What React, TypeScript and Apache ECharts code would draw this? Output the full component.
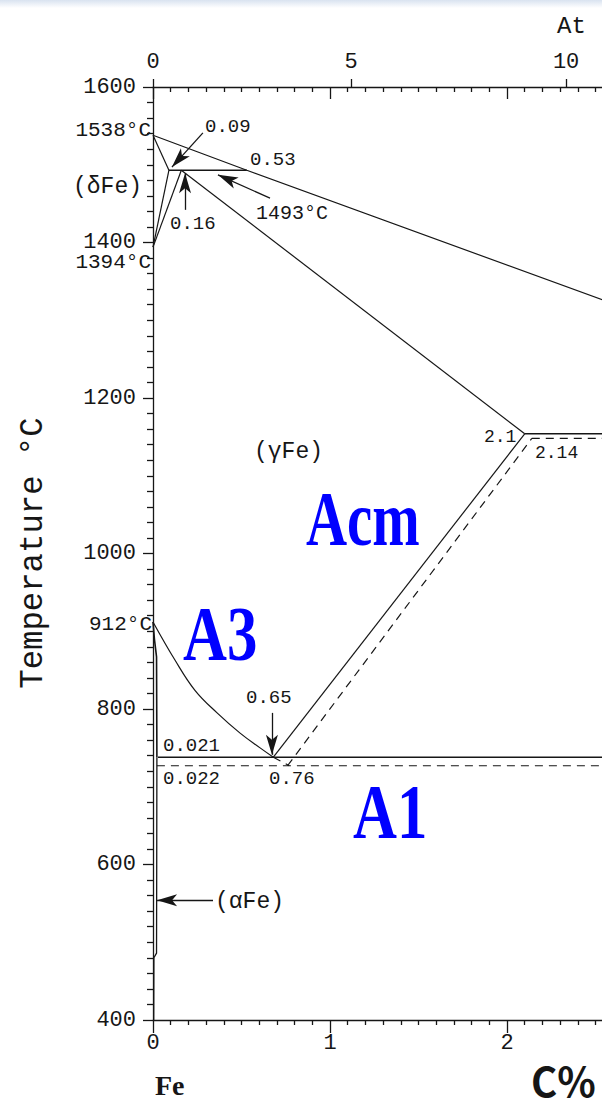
import React, { useEffect, useRef } from "react";
import * as echarts from "echarts";

// Fe–C phase diagram (iron-rich corner): temperature (°C) vs carbon content (wt%)

const CARBON_TICKS = [0, 1, 2];
const AT_TICKS = [0, 5, 10];
const TEMP_MIN = 400;
const TEMP_MAX = 1600;
const CARBON_MAX = 3;

// atomic % carbon -> weight % carbon
const atToWt = (a: number) => (100 * a * 12.011) / (a * 12.011 + (100 - a) * 55.845);
const AT_POSITIONS = AT_TICKS.map(atToWt);

// phase boundaries as [wt% C, °C]
const liquidus = [[0, 1538], [0.53, 1493], [3.0, 1288]];
const deltaSolidus = [[0, 1538], [0.09, 1493]];
const peritectic = [[0.09, 1493], [0.53, 1493]];
const deltaSolvus = [[0, 1394], [0.09, 1493]];
const gammaDeltaLine = [[0, 1394], [0.16, 1493]];
const gammaSolidus = [[0.16, 1493], [2.1, 1154]];
const eutecticStable = [[2.1, 1154], [3.0, 1154]];
const eutecticMeta = [[2.14, 1148], [3.0, 1148]];
const acmStable = [[0.68, 738], [2.1, 1154]];
const acmMeta = [[0.76, 727], [2.14, 1148]];
const a3Line = [[0, 912], [0.124, 863], [0.237, 824], [0.362, 795], [0.492, 769], [0.605, 750], [0.68, 738]];
const a3Meta = [[0.68, 738], [0.77, 727]];
const eutectoidStable = [[0.028, 738], [3.0, 738]];
const eutectoidMeta = [[0.022, 727], [3.0, 727]];
const alphaBoundary = [[0, 912], [0.008, 890], [0.02, 867], [0.022, 738]];
const alphaSolvus = [[0.022, 738], [0.021, 600], [0.02, 486], [0.005, 480], [0.004, 400]];

// leader arrows: [tail, tip]
const arrows = [
  [[0.282, 1541], [0.107, 1497]],
  [[0.181, 1442], [0.181, 1489]],
  [[0.661, 1457], [0.367, 1487]],
  [[0.672, 795], [0.672, 741]],
  [[0.339, 554], [0.023, 554]],
];

const INK = "#161616";
const MONO = '"Liberation Mono", "DejaVu Sans Mono", monospace';
const SERIF = '"Liberation Serif", "DejaVu Serif", serif';

const solid = (data: number[][], width = 1.2, smooth = 0) => ({
  type: "line",
  data,
  smooth,
  showSymbol: false,
  symbol: "none",
  silent: true,
  lineStyle: { color: INK, width, type: "solid" },
});
const dashed = (data: number[][]) => ({
  type: "line",
  data,
  showSymbol: false,
  symbol: "none",
  silent: true,
  lineStyle: { color: INK, width: 1.2, type: [8, 6] },
});

const label = (text: string, x: number, y: number, size: number, align = "left") => ({
  type: "text",
  x,
  y,
  silent: true,
  style: { text, font: `${size}px ${MONO}`, fill: INK, align, verticalAlign: "middle" },
});

const blue = (text: string, x: number, y: number, sx: number) => ({
  type: "text",
  x,
  y,
  scaleX: sx,
  silent: true,
  style: { text, font: `bold 78px ${SERIF}`, fill: "#0000ff", align: "left", verticalAlign: "middle" },
});

const CHART_W = 700;
const CHART_H = 1101;

export default function App() {
  const ref = useRef<HTMLDivElement>(null);

  useEffect(() => {
    if (!ref.current) return;
    const chart = echarts.init(ref.current, null, { renderer: "svg" });
    const axisStyle = { color: INK, width: 1.3 };
    const pxPerWt = 177;
    const gridLeft = 153;
    const right = CHART_W - (gridLeft + CARBON_MAX * pxPerWt);

    chart.setOption({
      animation: false,
      backgroundColor: "#ffffff",
      grid: { left: gridLeft, top: 87, right, bottom: 81, containLabel: false },
      xAxis: [
        {
          type: "value",
          position: "bottom",
          min: 0,
          max: CARBON_MAX,
          interval: 1,
          axisLine: { show: true, onZero: false, lineStyle: axisStyle },
          axisTick: { show: true, length: 13, lineStyle: axisStyle },
          minorTick: { show: true, splitNumber: 10, length: 5, lineStyle: axisStyle },
          splitLine: { show: false },
          axisLabel: {
            margin: 12,
            fontFamily: MONO,
            fontSize: 22,
            color: INK,
            formatter: (v: number) => (CARBON_TICKS.includes(v) ? String(v) : ""),
          },
        },
        {
          type: "value",
          position: "top",
          min: 0,
          max: CARBON_MAX,
          interval: 1,
          axisLine: { show: true, onZero: false, lineStyle: axisStyle },
          axisTick: { show: true, inside: true, length: 12, lineStyle: axisStyle },
          minorTick: { show: true, splitNumber: 10, length: 5, lineStyle: axisStyle },
          splitLine: { show: false },
          axisLabel: { show: false },
        },
        {
          type: "value",
          position: "top",
          min: 0,
          max: CARBON_MAX,
          axisLine: { show: false, onZero: false },
          axisTick: { show: true, length: 8, customValues: AT_POSITIONS, lineStyle: axisStyle },
          splitLine: { show: false },
          axisLabel: {
            customValues: AT_POSITIONS,
            margin: 14,
            fontFamily: MONO,
            fontSize: 22,
            color: INK,
            formatter: (v: number) => {
              const i = AT_POSITIONS.findIndex((p) => Math.abs(p - v) < 1e-6);
              return i >= 0 ? String(AT_TICKS[i]) : "";
            },
          },
        },
      ],
      yAxis: {
        type: "value",
        min: TEMP_MIN,
        max: TEMP_MAX,
        interval: 200,
        axisLine: { show: true, onZero: false, lineStyle: axisStyle },
        axisTick: { show: true, length: 10, lineStyle: axisStyle },
        minorTick: { show: true, splitNumber: 10, length: 6, lineStyle: axisStyle },
        splitLine: { show: false },
        axisLabel: { margin: 17, fontFamily: MONO, fontSize: 22, color: INK, formatter: (v: number) => String(v) },
      },
      series: [
        solid(liquidus),
        solid(deltaSolidus),
        solid(peritectic, 1.4),
        solid(deltaSolvus),
        solid(gammaDeltaLine),
        solid(gammaSolidus),
        solid(eutecticStable, 1.4),
        dashed(eutecticMeta),
        solid(acmStable),
        dashed(acmMeta),
        solid(a3Line, 1.2, 0.4),
        dashed(a3Meta),
        dashed(eutectoidMeta),
        solid(alphaBoundary, 1.6),
        solid(alphaSolvus, 1.3),
        {
          ...solid(eutectoidStable, 1.4),
          markLine: {
            silent: true,
            symbol: ["none", "arrow"],
            symbolSize: [9, 20],
            label: { show: false },
            lineStyle: { color: INK, width: 1.3, type: "solid" },
            data: arrows.map(([a, b]) => [{ coord: a }, { coord: b }]),
          },
        },
      ],
      graphic: [
        {
          type: "rect",
          silent: true,
          shape: { x: 0, y: 0, width: CHART_W, height: 8 },
          style: {
            fill: new echarts.graphic.LinearGradient(0, 0, 0, 1, [
              { offset: 0, color: "#d9e3f0" },
              { offset: 1, color: "#ffffff" },
            ]),
          },
        },
        label("At", 557, 26, 24),
        label("1538°C", 151, 130, 21, "right"),
        label("0.09", 205, 127, 19),
        label("0.53", 250, 160, 19),
        label("(δFe)", 73, 187, 23),
        label("1493°C", 256, 213, 20),
        label("0.16", 170, 224, 19),
        label("1394°C", 151, 262, 21, "right"),
        label("(γFe)", 254, 452, 23),
        label("2.1", 484, 437, 18),
        label("2.14", 535, 453, 18),
        label("912°C", 152, 624, 21, "right"),
        label("0.65", 246, 698, 19),
        label("0.021", 163, 746, 19),
        label("0.022", 163, 779, 19),
        label("0.76", 269, 779, 19),
        label("(αFe)", 215, 902, 23),
        {
          type: "text",
          x: 33,
          y: 553,
          rotation: Math.PI / 2,
          scaleX: 0.95,
          silent: true,
          style: { text: "Temperature °C", font: `34px ${MONO}`, fill: INK, align: "center", verticalAlign: "middle" },
        },
        blue("Acm", 306, 519, 0.73),
        blue("A3", 183, 634, 0.78),
        blue("A1", 353, 812, 0.78),
        {
          type: "text",
          x: 155,
          y: 1085,
          silent: true,
          style: { text: "Fe", font: `bold 28px ${SERIF}`, fill: INK, align: "left", verticalAlign: "middle" },
        },
        {
          type: "text",
          x: 531,
          y: 1080,
          silent: true,
          style: { text: "C%", font: `bold 40px "Noto Sans CJK SC", "DejaVu Sans", sans-serif`, fill: INK, align: "left", verticalAlign: "middle" },
        },
      ],
    });
    return () => chart.dispose();
  }, []);

  return (
    <div style={{ position: "absolute", left: 0, top: 0, width: 602, height: CHART_H, overflow: "hidden", background: "#fff" }}>
      <div ref={ref} style={{ width: CHART_W, height: CHART_H }} />
    </div>
  );
}
